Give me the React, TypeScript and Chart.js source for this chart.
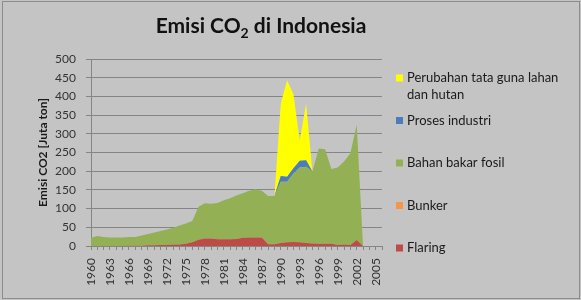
import { useEffect, useRef } from "react";
import { Chart, registerables } from "chart.js";

Chart.register(...registerables);

const years = [
  "1960", "1961", "1962", "1963", "1964", "1965", "1966", "1967", "1968", "1969",
  "1970", "1971", "1972", "1973", "1974", "1975", "1976", "1977", "1978", "1979",
  "1980", "1981", "1982", "1983", "1984", "1985", "1986", "1987", "1988", "1989",
  "1990", "1991", "1992", "1993", "1994", "1995", "1996", "1997", "1998", "1999",
  "2000", "2001", "2002", "2003", "2004", "2005", "2006",
];

const flaring = [
  0, 0, 0, 0, 0, 0, 0.5, 1, 1, 2,
  2, 3, 3, 4, 4, 6, 10, 17, 20, 20,
  18, 18, 18, 19, 22, 23, 23, 23, 5, 5,
  8, 10, 11, 10, 8, 7, 6, 6, 6, 3,
  4, 3, 16, 0, null, null, null,
];

const bunker = [
  0, 0, 0, 0, 0, 0, 0, 0, 0, 0,
  0, 0, 0, 0, 0, 0, 0, 0, 0, 0,
  0, 0, 0, 0, 0, 0, 0, 0, 0, 0,
  0, 0, 0, 0, 0, 0, 0, 0, 0, 0,
  0, 0, 0, 0, null, null, null,
];

const fossil = [
  22, 27, 24, 23, 23, 23, 23.5, 23, 27, 30,
  34, 37, 41, 45, 51, 54, 57, 88, 94, 93,
  97, 104, 110, 116, 119, 125, 129, 125, 129, 129,
  164, 162, 183, 200, 204, 192, 255, 253, 200, 207,
  222, 245, 308, 0, null, null, null,
];

const industry = [
  0, 0, 0, 0, 0, 0, 0, 0, 0, 0,
  0, 0, 0, 0, 0, 0, 0, 0, 0, 0,
  0, 0, 0, 0, 0, 0, 0, 0, 0, 0,
  15, 13, 14, 18, 17, 0, 0, 0, 0, 0,
  0, 0, 0, 0, null, null, null,
];

const landUse = [
  0, 0, 0, 0, 0, 0, 0, 0, 0, 0,
  0, 0, 0, 0, 0, 0, 0, 0, 0, 0,
  0, 0, 0, 0, 0, 0, 0, 0, 0, 0,
  194, 258, 198, 54, 152, 0, 0, 0, 0, 0,
  0, 0, 0, 0, null, null, null,
];

const seriesLabels = ["Flaring", "Bunker", "Bahan bakar fosil", "Proses industri", "Perubahan tata guna lahan dan hutan"];
const seriesColors = ["#bd4b48", "#f79646", "#93b054", "#4a7dba", "#ffff00"];

const titleParts = ["Emisi CO", "2", " di Indonesia"];
const yTitle = "Emisi CO2 [Juta ton]";

const FONT = "Lato, 'Open Sans', 'DejaVu Sans', sans-serif";
const GRID = "#858585";

export default function App() {
  const ref = useRef<HTMLCanvasElement>(null);

  useEffect(() => {
    document.body.style.margin = "0";
    const canvas = ref.current;
    if (!canvas) return;

    const bgPlugin = {
      id: "bg",
      beforeDraw(chart: any) {
        const { ctx, width, height } = chart;
        ctx.save();
        ctx.fillStyle = "#c4c4c4";
        ctx.fillRect(0, 0, width, height);
        ctx.strokeStyle = "#8c8c8c";
        ctx.lineWidth = 1;
        ctx.strokeRect(2.5, 1.5, width - 4, height - 3);
        ctx.restore();
      },
    };

    const titlePlugin = {
      id: "subTitle",
      afterDraw(chart: any) {
        const ctx = chart.ctx;
        ctx.save();
        ctx.fillStyle = "#111";
        ctx.textBaseline = "alphabetic";
        ctx.textAlign = "left";
        const big = `bold 21px ${FONT}`;
        const small = `bold 14px ${FONT}`;
        ctx.font = big;
        const w1 = ctx.measureText(titleParts[0]).width;
        const w3 = ctx.measureText(titleParts[2]).width;
        ctx.font = small;
        const w2 = ctx.measureText(titleParts[1]).width;
        const total = w1 + w2 + w3;
        const x0 = 261 - total / 2;
        const base = 33;
        ctx.font = big;
        ctx.fillText(titleParts[0], x0, base);
        ctx.font = small;
        ctx.fillText(titleParts[1], x0 + w1, base + 5);
        ctx.font = big;
        ctx.fillText(titleParts[2], x0 + w1 + w2, base);
        ctx.restore();
      },
    };

    const legendPlugin = {
      id: "sideLegend",
      afterDraw(chart: any) {
        const ctx = chart.ctx;
        const ds = chart.data.datasets.slice().reverse();
        ctx.save();
        ctx.font = `13px ${FONT}`;
        ctx.textBaseline = "middle";
        ctx.textAlign = "left";
        const boxX = 396;
        const textX = 407;
        const maxW = 581 - textX - 6;
        ds.forEach((d: any, i: number) => {
          const yc = 78 + i * 42.5;
          const words = String(d.label).split(" ");
          const lines: string[] = [];
          let cur = "";
          words.forEach((w) => {
            const t = cur ? cur + " " + w : w;
            if (ctx.measureText(t).width > maxW && cur) {
              lines.push(cur);
              cur = w;
            } else cur = t;
          });
          if (cur) lines.push(cur);
          ctx.fillStyle = d.backgroundColor;
          ctx.fillRect(boxX, yc - 3.5, 7, 7);
          ctx.fillStyle = "#1a1a1a";
          lines.forEach((l, j) => ctx.fillText(l, textX, yc + j * 17));
        });
        ctx.restore();
      },
    };

    const dataArrays = [flaring, bunker, fossil, industry, landUse];

    const chart = new Chart(canvas, {
      type: "line",
      data: {
        labels: years,
        datasets: dataArrays.map((arr, i) => ({
          label: seriesLabels[i],
          data: arr,
          backgroundColor: seriesColors[i],
          borderColor: seriesColors[i],
          borderWidth: 0,
          pointRadius: 0,
          tension: 0,
          fill: i === 0 ? "origin" : "-1",
        })),
      },
      options: {
        responsive: false,
        animation: false,
        layout: { padding: { top: 59, right: 199, left: 0, bottom: 0 } },
        plugins: {
          legend: { display: false },
          title: { display: false },
          tooltip: { enabled: false },
        },
        scales: {
          x: {
            ticks: {
              autoSkip: false,
              maxRotation: 90,
              minRotation: 90,
              padding: 8,
              color: "#333",
              font: { family: FONT, size: 12 },
              callback: (_v: any, i: number) => (i % 3 === 0 ? years[i] : ""),
            },
            grid: { drawOnChartArea: false, tickLength: 4, color: GRID, tickColor: GRID },
            border: { color: GRID },
            afterFit(s: any) {
              s.height = 54;
            },
          },
          y: {
            stacked: true,
            min: 0,
            max: 500,
            ticks: {
              stepSize: 50,
              padding: 10,
              color: "#333",
              font: { family: FONT, size: 12 },
            },
            grid: { color: GRID, tickLength: 5, tickColor: GRID },
            border: { color: GRID },
            title: {
              display: true,
              text: yTitle,
              color: "#1a1a1a",
              font: { family: FONT, size: 12, weight: "bold" },
              padding: { top: 36, bottom: 0 },
            },
            afterFit(s: any) {
              s.width = 91;
            },
          },
        },
      },
      plugins: [bgPlugin, titlePlugin, legendPlugin],
    } as any);

    return () => chart.destroy();
  }, []);

  return (
    <div style={{ width: 581, height: 300 }}>
      <canvas ref={ref} width={581} height={300} style={{ display: "block" }} />
    </div>
  );
}
